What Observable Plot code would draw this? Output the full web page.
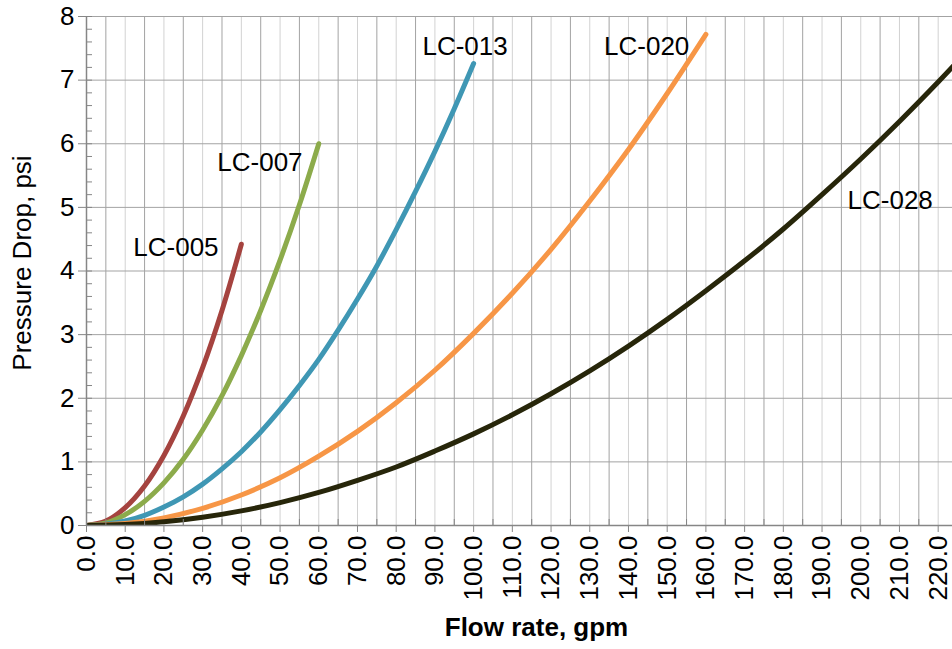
<!DOCTYPE html>
<html><head><meta charset="utf-8">
<script src="https://cdn.jsdelivr.net/npm/d3@7"></script>
<script src="https://cdn.jsdelivr.net/npm/@observablehq/plot@0.6"></script>
<style>
body{margin:0;background:#fff;}
#chart svg{font-family:"Liberation Sans",Arial,sans-serif;}
</style>
</head><body><div id="chart"></div>
<script>
// Series names and colours
const seriesNames = ["LC-005", "LC-007", "LC-013", "LC-020", "LC-028"];
const seriesColors = ["#a5433f", "#8cab4b", "#3f97b4", "#f79646", "#27260a"];

// Flow (gpm) and pressure drop (psi)
const lc005Flow = [0, 5, 10, 15, 20, 25, 30, 35, 40];
const lc005Drop = [0, 0.07, 0.28, 0.62, 1.10, 1.72, 2.48, 3.38, 4.42];

const lc007Flow = [0, 5, 10, 15, 20, 25, 30, 35, 40, 45, 50, 55, 60];
const lc007Drop = [0, 0.04, 0.17, 0.38, 0.67, 1.04, 1.50, 2.04, 2.67, 3.38, 4.17, 5.04, 6.00];

const lc013Flow = [0, 5, 10, 15, 20, 25, 30, 35, 40, 45, 50, 55, 60, 65, 70, 75, 80, 85, 90, 95, 100];
const lc013Drop = [0, 0.02, 0.07, 0.16, 0.29, 0.45, 0.65, 0.89, 1.16, 1.47, 1.82, 2.20, 2.61, 3.07, 3.56, 4.08, 4.65, 5.25, 5.88, 6.55, 7.26];

const lc020Flow = [0, 10, 20, 30, 40, 50, 60, 70, 80, 90, 100, 110, 120, 130, 140, 150, 160];
const lc020Drop = [0, 0.03, 0.12, 0.27, 0.48, 0.75, 1.09, 1.48, 1.93, 2.44, 3.02, 3.65, 4.34, 5.10, 5.91, 6.79, 7.72];

const lc028Flow = [0, 10, 20, 30, 40, 50, 60, 70, 80, 90, 100, 110, 120, 130, 140, 150, 160, 170, 180, 190, 200, 210, 220, 230];
const lc028Drop = [0, 0.014, 0.058, 0.13, 0.23, 0.36, 0.52, 0.71, 0.92, 1.17, 1.44, 1.74, 2.07, 2.43, 2.82, 3.24, 3.69, 4.16, 4.66, 5.20, 5.76, 6.35, 6.97, 7.62];

// Curve labels (data coordinates)
const labelNames = ["LC-005", "LC-007", "LC-013", "LC-020", "LC-028"];
const labelFlow = [23.1, 44.8, 97.8, 144.7, 207.6];
const labelDrop = [4.36, 5.71, 7.53, 7.53, 5.11];

// Axis ticks
const xMajorTicks = d3.range(0, 221, 10);
const xMinorTicks = d3.range(5, 221, 10);
const yMajorTicks = d3.range(0, 9, 1);
const yMinorTicks = d3.range(0, 41, 1).map(i => i / 5);

const flows = [lc005Flow, lc007Flow, lc013Flow, lc020Flow, lc028Flow];
const drops = [lc005Drop, lc007Drop, lc013Drop, lc020Drop, lc028Drop];
const rows = seriesNames.flatMap((s, i) => flows[i].map((f, j) => ({series: s, flow: f, drop: drops[i][j]})));
const labels = labelNames.map((n, i) => ({name: n, flow: labelFlow[i], drop: labelDrop[i]}));

const FS = 26;
const axisGray = "#868686";

const chart = Plot.plot({
  width: 952,
  height: 649,
  marginLeft: 86,
  marginRight: 0,
  marginTop: 16,
  marginBottom: 124,
  style: {background: "#fff", fontFamily: '"Liberation Sans", Arial, sans-serif', overflow: "visible"},
  x: {domain: [0, 223.7]},
  y: {domain: [0, 8]},
  color: {domain: seriesNames, range: seriesColors},
  marks: [
    Plot.ruleX(xMinorTicks, {stroke: "#a3a3a3", strokeWidth: 1}),
    Plot.ruleX(xMajorTicks.filter(d => d > 0), {stroke: "#d2d2d2", strokeWidth: 1}),
    Plot.ruleY(yMajorTicks.filter(d => d > 0), {stroke: "#a3a3a3", strokeWidth: 1}),
    Plot.line(rows, {x: "flow", y: "drop", z: "series", stroke: "series", strokeWidth: 5, curve: "catmull-rom", clip: true, strokeLinecap: "round"}),
    Plot.ruleX([0], {stroke: axisGray, strokeWidth: 1.5}),
    Plot.ruleY([0], {stroke: axisGray, strokeWidth: 1.5}),
    // y ticks
    Plot.axisY({ticks: yMajorTicks, tickSize: 8, text: null, stroke: axisGray, label: null}),
    Plot.axisY({ticks: yMinorTicks, tickSize: 6, text: null, stroke: axisGray, dx: 6, label: null}),
    Plot.axisY({ticks: yMajorTicks, tickSize: 0, tickPadding: 12, fontSize: FS, fill: "#000", label: null}),
    // x ticks
    Plot.axisX({ticks: xMajorTicks, tickSize: 7, text: null, stroke: axisGray, label: null}),
    Plot.axisX({ticks: xMinorTicks, tickSize: 6, text: null, stroke: axisGray, dy: -6, label: null}),
    Plot.axisX({ticks: xMajorTicks, tickSize: 0, tickPadding: 10, tickRotate: -90, tickFormat: d3.format(".1f"), fontSize: FS, fill: "#000", label: null}),
    // curve labels
    Plot.text(labels, {x: "flow", y: "drop", text: "name", fontSize: FS, fill: "#000"}),
    // axis titles
    Plot.text(["Flow rate, gpm"], {frameAnchor: "bottom", textAnchor: "middle", dx: 17, dy: 110, fontSize: FS, fontWeight: "bold", fill: "#000"}),
    Plot.text(["Pressure Drop, psi"], {frameAnchor: "left", textAnchor: "middle", dx: -64, dy: -8, rotate: -90, fontSize: FS, fill: "#000"})
  ]
});
document.getElementById("chart").appendChild(chart);
</script>
</body></html>
